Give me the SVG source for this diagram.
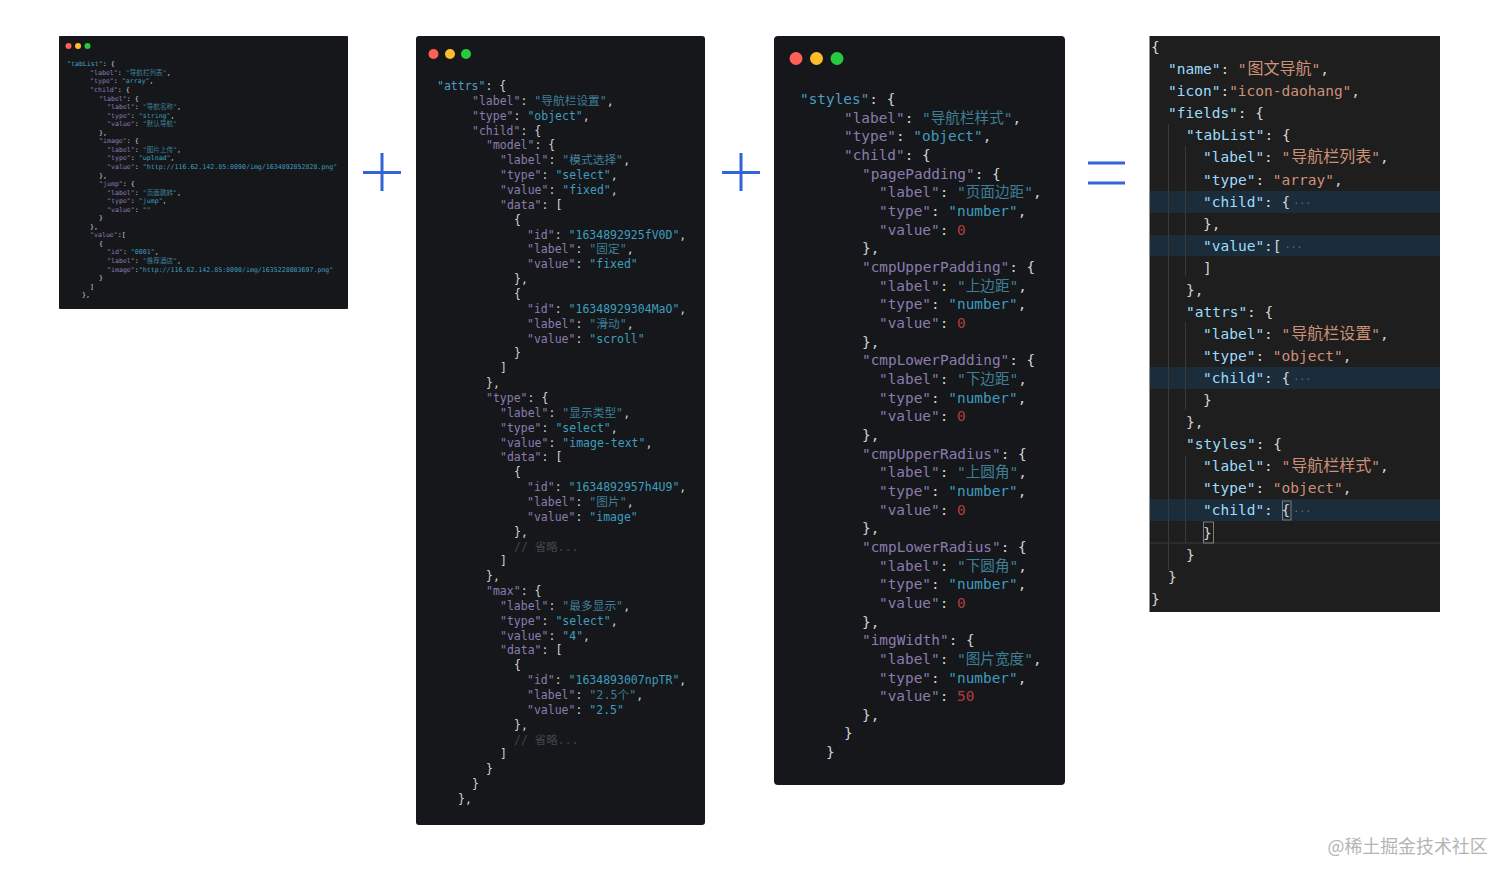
<svg xmlns="http://www.w3.org/2000/svg" width="1512" height="882" viewBox="0 0 1512 882">
<style>
text{font-family:"DejaVu Sans Mono","Noto Sans CJK SC",monospace;fill:#cfd2d4;white-space:pre}
.bg{fill:#15171b}
.k{fill:#8c7cae}.t{fill:#4c9fc4}.s{fill:#3f9dbd}.c{fill:#3f7f96}.n{fill:#b23c3c}.m{fill:#3d474c}
.r{fill:#ff5f56}.y{fill:#ffbd2e}.g{fill:#27c93f}
#panel1 text{font-size:6.6px}#panel1 .c{font-size:6.6px}
#panel2 text{font-size:11.5px}#panel2 .c{font-size:11.7px}
#panel3 text{font-size:14.4px}#panel3 .c{font-size:14.6px}
#panel4 text{font-size:14.5px;fill:#d4d4d4}
#panel4 .k{fill:#9cdcfe}#panel4 .s{fill:#ce9178}#panel4 .c{fill:#ce9178;font-size:16px}
#panel4 .d{fill:#5c6a72;font-size:10px}
.hl{fill:#1b2d3a}.gd{stroke:#3a3a3a;stroke-width:1;fill:none}
.op{stroke:#3265d8;stroke-width:3;fill:none}
#wm text{font-family:"Noto Sans CJK SC","DejaVu Sans",sans-serif;font-size:17.9px;fill:#b4b4b4}
</style>
<rect width="1512" height="882" fill="#ffffff"/>
<g id="panel1">
<rect class="bg" x="59" y="36" width="289" height="273" rx="1"/>
<circle class="r" cx="68.5" cy="46" r="3"/><circle class="y" cx="78" cy="46" r="3"/><circle class="g" cx="87.5" cy="46" r="3"/>
<text x="67" y="66.3"><tspan class="t">"tabList"</tspan>: {</text>
<text x="90" y="74.9"><tspan class="k">"label"</tspan>: <tspan class="c">"导航栏列表"</tspan>,</text>
<text x="90" y="83.4"><tspan class="k">"type"</tspan>: <tspan class="s">"array"</tspan>,</text>
<text x="90" y="92"><tspan class="k">"child"</tspan>: {</text>
<text x="99" y="100.5"><tspan class="k">"label"</tspan>: {</text>
<text x="107" y="109.1"><tspan class="k">"label"</tspan>: <tspan class="c">"导航名称"</tspan>,</text>
<text x="107" y="117.6"><tspan class="k">"type"</tspan>: <tspan class="s">"string"</tspan>,</text>
<text x="107" y="126.2"><tspan class="k">"value"</tspan>: <tspan class="c">"默认导航"</tspan></text>
<text x="99" y="134.7">},</text>
<text x="99" y="143.3"><tspan class="k">"image"</tspan>: {</text>
<text x="107" y="151.8"><tspan class="k">"label"</tspan>: <tspan class="c">"图片上传"</tspan>,</text>
<text x="107" y="160.4"><tspan class="k">"type"</tspan>: <tspan class="s">"upload"</tspan>,</text>
<text x="107" y="168.9"><tspan class="k">"value"</tspan>: <tspan class="s">"http://116.62.142.85:8090/img/1634892852828.png"</tspan></text>
<text x="99" y="177.5">},</text>
<text x="99" y="186"><tspan class="k">"jump"</tspan>: {</text>
<text x="107" y="194.6"><tspan class="k">"label"</tspan>: <tspan class="c">"页面跳转"</tspan>,</text>
<text x="107" y="203.1"><tspan class="k">"type"</tspan>: <tspan class="s">"jump"</tspan>,</text>
<text x="107" y="211.7"><tspan class="k">"value"</tspan>: <tspan class="s">""</tspan></text>
<text x="99" y="220.2">}</text>
<text x="90" y="228.8">},</text>
<text x="90" y="237.3"><tspan class="k">"value"</tspan>:[</text>
<text x="99" y="245.9">{</text>
<text x="107" y="254.4"><tspan class="k">"id"</tspan>: <tspan class="s">"0001"</tspan>,</text>
<text x="107" y="263"><tspan class="k">"label"</tspan>: <tspan class="c">"推荐酒店"</tspan>,</text>
<text x="107" y="271.5"><tspan class="k">"image"</tspan>:<tspan class="s">"http://116.62.142.85:8090/img/1635228083697.png"</tspan></text>
<text x="99" y="280.1">}</text>
<text x="90" y="288.6">]</text>
<text x="82" y="297.2">},</text>
</g>
<g id="panel2">
<rect class="bg" x="416" y="36" width="289" height="789" rx="3"/>
<circle class="r" cx="433.5" cy="54" r="5"/><circle class="y" cx="450" cy="54" r="5"/><circle class="g" cx="466" cy="54" r="5"/>
<text x="437" y="90"><tspan class="t">"attrs"</tspan>: {</text>
<text x="472" y="104.9"><tspan class="k">"label"</tspan>: <tspan class="c">"导航栏设置"</tspan>,</text>
<text x="472" y="119.7"><tspan class="k">"type"</tspan>: <tspan class="s">"object"</tspan>,</text>
<text x="472" y="134.6"><tspan class="k">"child"</tspan>: {</text>
<text x="486" y="149.4"><tspan class="k">"model"</tspan>: {</text>
<text x="500" y="164.3"><tspan class="k">"label"</tspan>: <tspan class="c">"模式选择"</tspan>,</text>
<text x="500" y="179.1"><tspan class="k">"type"</tspan>: <tspan class="s">"select"</tspan>,</text>
<text x="500" y="194"><tspan class="k">"value"</tspan>: <tspan class="s">"fixed"</tspan>,</text>
<text x="500" y="208.8"><tspan class="k">"data"</tspan>: [</text>
<text x="514" y="223.7">{</text>
<text x="527" y="238.5"><tspan class="k">"id"</tspan>: <tspan class="s">"1634892925fV0D"</tspan>,</text>
<text x="527" y="253.4"><tspan class="k">"label"</tspan>: <tspan class="c">"固定"</tspan>,</text>
<text x="527" y="268.2"><tspan class="k">"value"</tspan>: <tspan class="s">"fixed"</tspan></text>
<text x="514" y="283.1">},</text>
<text x="514" y="298">{</text>
<text x="527" y="312.8"><tspan class="k">"id"</tspan>: <tspan class="s">"16348929304MaO"</tspan>,</text>
<text x="527" y="327.7"><tspan class="k">"label"</tspan>: <tspan class="c">"滑动"</tspan>,</text>
<text x="527" y="342.5"><tspan class="k">"value"</tspan>: <tspan class="s">"scroll"</tspan></text>
<text x="514" y="357.4">}</text>
<text x="500" y="372.2">]</text>
<text x="486" y="387.1">},</text>
<text x="486" y="401.9"><tspan class="k">"type"</tspan>: {</text>
<text x="500" y="416.8"><tspan class="k">"label"</tspan>: <tspan class="c">"显示类型"</tspan>,</text>
<text x="500" y="431.6"><tspan class="k">"type"</tspan>: <tspan class="s">"select"</tspan>,</text>
<text x="500" y="446.5"><tspan class="k">"value"</tspan>: <tspan class="s">"image-text"</tspan>,</text>
<text x="500" y="461.4"><tspan class="k">"data"</tspan>: [</text>
<text x="514" y="476.2">{</text>
<text x="527" y="491.1"><tspan class="k">"id"</tspan>: <tspan class="s">"1634892957h4U9"</tspan>,</text>
<text x="527" y="505.9"><tspan class="k">"label"</tspan>: <tspan class="c">"图片"</tspan>,</text>
<text x="527" y="520.8"><tspan class="k">"value"</tspan>: <tspan class="s">"image"</tspan></text>
<text x="514" y="535.6">},</text>
<text x="514" y="550.5"><tspan class="m">// 省略...</tspan></text>
<text x="500" y="565.3">]</text>
<text x="486" y="580.2">},</text>
<text x="486" y="595"><tspan class="k">"max"</tspan>: {</text>
<text x="500" y="609.9"><tspan class="k">"label"</tspan>: <tspan class="c">"最多显示"</tspan>,</text>
<text x="500" y="624.7"><tspan class="k">"type"</tspan>: <tspan class="s">"select"</tspan>,</text>
<text x="500" y="639.6"><tspan class="k">"value"</tspan>: <tspan class="s">"4"</tspan>,</text>
<text x="500" y="654.4"><tspan class="k">"data"</tspan>: [</text>
<text x="514" y="669.3">{</text>
<text x="527" y="684.2"><tspan class="k">"id"</tspan>: <tspan class="s">"1634893007npTR"</tspan>,</text>
<text x="527" y="699"><tspan class="k">"label"</tspan>: <tspan class="c">"2.5个"</tspan>,</text>
<text x="527" y="713.9"><tspan class="k">"value"</tspan>: <tspan class="s">"2.5"</tspan></text>
<text x="514" y="728.7">},</text>
<text x="514" y="743.6"><tspan class="m">// 省略...</tspan></text>
<text x="500" y="758.4">]</text>
<text x="486" y="773.3">}</text>
<text x="472" y="788.1">}</text>
<text x="458" y="803">},</text>
</g>
<g id="panel3">
<rect class="bg" x="774" y="36" width="291" height="749" rx="4"/>
<circle class="r" cx="796" cy="58.5" r="6.500"/><circle class="y" cx="816.5" cy="58.5" r="6.500"/><circle class="g" cx="837" cy="58.5" r="6.500"/>
<text x="800" y="104"><tspan class="t">"styles"</tspan>: {</text>
<text x="844" y="122.7"><tspan class="k">"label"</tspan>: <tspan class="c">"导航栏样式"</tspan>,</text>
<text x="844" y="141.3"><tspan class="k">"type"</tspan>: <tspan class="s">"object"</tspan>,</text>
<text x="844" y="160"><tspan class="k">"child"</tspan>: {</text>
<text x="862" y="178.6"><tspan class="k">"pagePadding"</tspan>: {</text>
<text x="879" y="197.3"><tspan class="k">"label"</tspan>: <tspan class="c">"页面边距"</tspan>,</text>
<text x="879" y="216"><tspan class="k">"type"</tspan>: <tspan class="s">"number"</tspan>,</text>
<text x="879" y="234.6"><tspan class="k">"value"</tspan>: <tspan class="n">0</tspan></text>
<text x="862" y="253.3">},</text>
<text x="862" y="271.9"><tspan class="k">"cmpUpperPadding"</tspan>: {</text>
<text x="879" y="290.6"><tspan class="k">"label"</tspan>: <tspan class="c">"上边距"</tspan>,</text>
<text x="879" y="309.3"><tspan class="k">"type"</tspan>: <tspan class="s">"number"</tspan>,</text>
<text x="879" y="327.9"><tspan class="k">"value"</tspan>: <tspan class="n">0</tspan></text>
<text x="862" y="346.6">},</text>
<text x="862" y="365.2"><tspan class="k">"cmpLowerPadding"</tspan>: {</text>
<text x="879" y="383.9"><tspan class="k">"label"</tspan>: <tspan class="c">"下边距"</tspan>,</text>
<text x="879" y="402.6"><tspan class="k">"type"</tspan>: <tspan class="s">"number"</tspan>,</text>
<text x="879" y="421.2"><tspan class="k">"value"</tspan>: <tspan class="n">0</tspan></text>
<text x="862" y="439.9">},</text>
<text x="862" y="458.5"><tspan class="k">"cmpUpperRadius"</tspan>: {</text>
<text x="879" y="477.2"><tspan class="k">"label"</tspan>: <tspan class="c">"上圆角"</tspan>,</text>
<text x="879" y="495.9"><tspan class="k">"type"</tspan>: <tspan class="s">"number"</tspan>,</text>
<text x="879" y="514.5"><tspan class="k">"value"</tspan>: <tspan class="n">0</tspan></text>
<text x="862" y="533.2">},</text>
<text x="862" y="551.8"><tspan class="k">"cmpLowerRadius"</tspan>: {</text>
<text x="879" y="570.5"><tspan class="k">"label"</tspan>: <tspan class="c">"下圆角"</tspan>,</text>
<text x="879" y="589.2"><tspan class="k">"type"</tspan>: <tspan class="s">"number"</tspan>,</text>
<text x="879" y="607.8"><tspan class="k">"value"</tspan>: <tspan class="n">0</tspan></text>
<text x="862" y="626.5">},</text>
<text x="862" y="645.1"><tspan class="k">"imgWidth"</tspan>: {</text>
<text x="879" y="663.8"><tspan class="k">"label"</tspan>: <tspan class="c">"图片宽度"</tspan>,</text>
<text x="879" y="682.5"><tspan class="k">"type"</tspan>: <tspan class="s">"number"</tspan>,</text>
<text x="879" y="701.1"><tspan class="k">"value"</tspan>: <tspan class="n">50</tspan></text>
<text x="862" y="719.8">},</text>
<text x="844" y="738.4">}</text>
<text x="826" y="757.1">}</text>
</g>
<g id="panel4">
<rect x="1149.5" y="36" width="290.5" height="576" fill="#1e1e1e"/>
<rect class="hl" x="1150" y="191" width="290" height="22"/>
<rect class="hl" x="1150" y="235" width="290" height="21"/>
<rect class="hl" x="1150" y="367" width="290" height="22"/>
<rect class="hl" x="1150" y="499" width="290" height="22"/>
<path class="gd" d="M1168.5 124V570M1185.5 146V276M1185.5 322V410M1185.5 456V543M1150 543H1440"/>
<rect x="1282.5" y="501" width="8.5" height="19" fill="none" stroke="#7a7f78"/>
<rect x="1203.5" y="522" width="10" height="21" fill="none" stroke="#7a7f78"/>
<text x="1151" y="52">{</text>
<text x="1168" y="74"><tspan class="k">"name"</tspan>: <tspan class="s">"<tspan class="c" dx="1">图文导航</tspan>"</tspan>,</text>
<text x="1168" y="96"><tspan class="k">"icon"</tspan>:<tspan class="s">"icon-daohang"</tspan>,</text>
<text x="1168" y="118"><tspan class="k">"fields"</tspan>: {</text>
<text x="1186" y="140"><tspan class="k">"tabList"</tspan>: {</text>
<text x="1203" y="162"><tspan class="k">"label"</tspan>: <tspan class="s">"<tspan class="c" dx="1">导航栏列表</tspan>"</tspan>,</text>
<text x="1203" y="185"><tspan class="k">"type"</tspan>: <tspan class="s">"array"</tspan>,</text>
<text x="1203" y="207"><tspan class="k">"child"</tspan>: {<tspan class="d" dx="3">···</tspan></text>
<text x="1203" y="229">},</text>
<text x="1203" y="251"><tspan class="k">"value"</tspan>:[<tspan class="d" dx="3">···</tspan></text>
<text x="1203" y="273">]</text>
<text x="1186" y="295">},</text>
<text x="1186" y="317"><tspan class="k">"attrs"</tspan>: {</text>
<text x="1203" y="339"><tspan class="k">"label"</tspan>: <tspan class="s">"<tspan class="c" dx="1">导航栏设置</tspan>"</tspan>,</text>
<text x="1203" y="361"><tspan class="k">"type"</tspan>: <tspan class="s">"object"</tspan>,</text>
<text x="1203" y="383"><tspan class="k">"child"</tspan>: {<tspan class="d" dx="3">···</tspan></text>
<text x="1203" y="405">}</text>
<text x="1186" y="427">},</text>
<text x="1186" y="449"><tspan class="k">"styles"</tspan>: {</text>
<text x="1203" y="471"><tspan class="k">"label"</tspan>: <tspan class="s">"<tspan class="c" dx="1">导航栏样式</tspan>"</tspan>,</text>
<text x="1203" y="493"><tspan class="k">"type"</tspan>: <tspan class="s">"object"</tspan>,</text>
<text x="1203" y="515"><tspan class="k">"child"</tspan>: {<tspan class="d" dx="3">···</tspan></text>
<text x="1203" y="538">}</text>
<text x="1186" y="560">}</text>
<text x="1168" y="582">}</text>
<text x="1151" y="604">}</text>
</g>
<g id="connectors">
<path class="op" d="M363 172.500H401M382 153V191"/>
<path class="op" d="M722 172.500H760M741 153V191"/>
<path class="op" d="M1088 163H1125M1088 183H1125"/>
</g>
<g id="wm"><text x="1327.500" y="853">@稀土掘金技术社区</text></g>
</svg>
